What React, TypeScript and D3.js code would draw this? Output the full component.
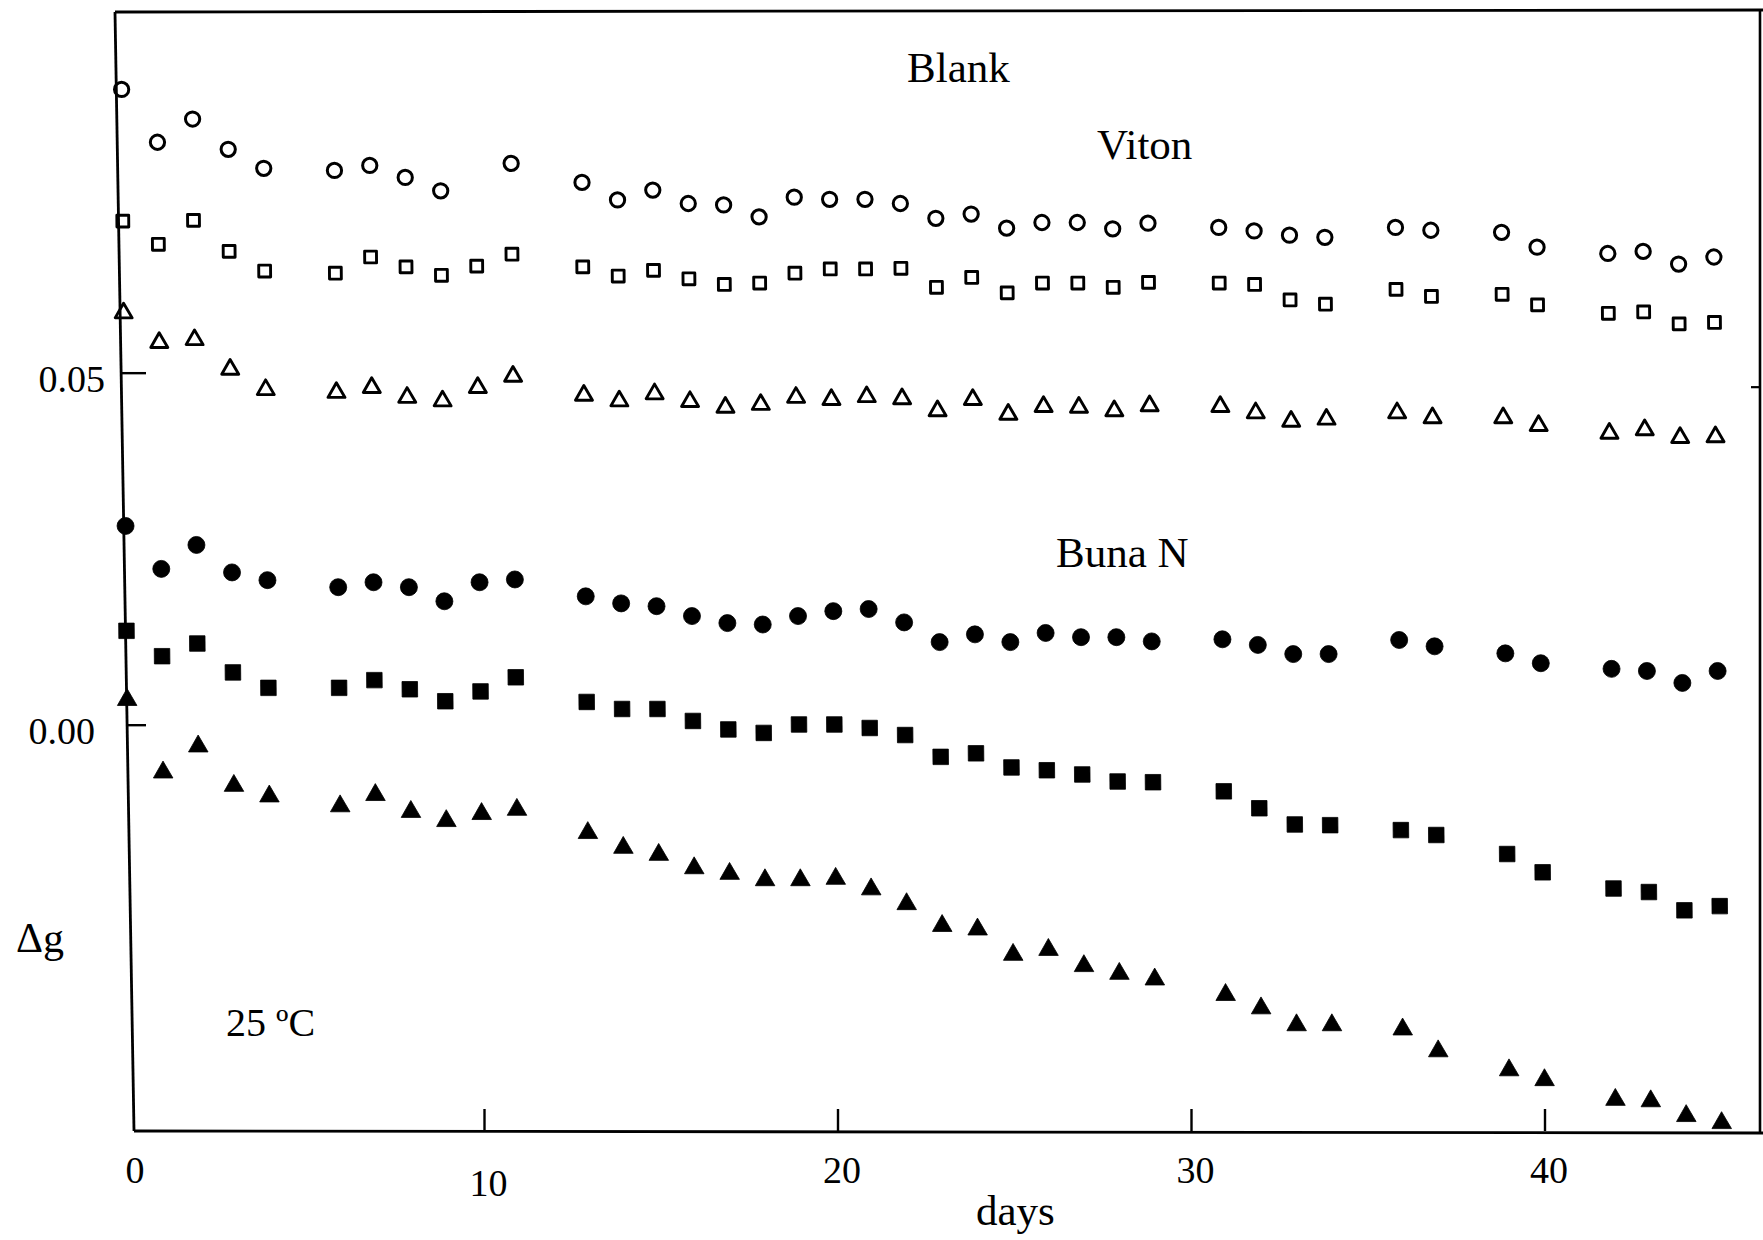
import React from 'react';
import * as d3 from 'd3';

// ---- data ----
const days = [0, 1, 2, 3, 4, 6, 7, 8, 9, 10, 11, 13, 14, 15, 16, 17, 18, 19, 20, 21, 22, 23, 24, 25, 26, 27, 28, 29, 31, 32, 33, 34, 36, 37, 39, 40, 42, 43, 44, 45];

const openCircle = [0.0903, 0.0828, 0.0861, 0.0818, 0.0791, 0.0788, 0.0795, 0.0778, 0.0759, null, 0.0798, 0.0771, 0.0746, 0.0760, 0.0741, 0.0739, 0.0722, 0.0750, 0.0747, 0.0747, 0.0741, 0.0720, 0.0726, 0.0706, 0.0714, 0.0714, 0.0705, 0.0713, 0.0707, 0.0702, 0.0696, 0.0693, 0.0707, 0.0703, 0.0700, 0.0679, 0.0670, 0.0673, 0.0655, 0.0665];
const openSquare = [0.0716, 0.0683, 0.0717, 0.0673, 0.0645, 0.0642, 0.0665, 0.0651, 0.0639, 0.0652, 0.0669, 0.0651, 0.0638, 0.0646, 0.0634, 0.0626, 0.0628, 0.0642, 0.0648, 0.0648, 0.0649, 0.0622, 0.0636, 0.0614, 0.0628, 0.0628, 0.0622, 0.0629, 0.0628, 0.0626, 0.0604, 0.0598, 0.0619, 0.0609, 0.0612, 0.0597, 0.0585, 0.0587, 0.0570, 0.0572];
const openTriangle = [0.0589, 0.0547, 0.0551, 0.0509, 0.0480, 0.0476, 0.0483, 0.0469, 0.0464, 0.0483, 0.0499, 0.0472, 0.0464, 0.0474, 0.0463, 0.0455, 0.0459, 0.0469, 0.0466, 0.0470, 0.0467, 0.0450, 0.0466, 0.0445, 0.0456, 0.0455, 0.0450, 0.0457, 0.0456, 0.0447, 0.0435, 0.0438, 0.0447, 0.0440, 0.0440, 0.0429, 0.0418, 0.0423, 0.0412, 0.0413];
const filledCircle = [0.0283, 0.0222, 0.0256, 0.0217, 0.0206, 0.0196, 0.0203, 0.0196, 0.0176, 0.0203, 0.0207, 0.0183, 0.0173, 0.0169, 0.0155, 0.0145, 0.0143, 0.0155, 0.0162, 0.0165, 0.0146, 0.0118, 0.0129, 0.0118, 0.0131, 0.0125, 0.0125, 0.0119, 0.0122, 0.0114, 0.0101, 0.0101, 0.0121, 0.0112, 0.0102, 0.0088, 0.0080, 0.0077, 0.0060, 0.0077];
const filledSquare = [0.0134, 0.0098, 0.0116, 0.0075, 0.0053, 0.0053, 0.0064, 0.0051, 0.0034, 0.0048, 0.0068, 0.0033, 0.0023, 0.0023, 0.0006, -0.0006, -0.0011, 0.0001, 0.0001, -0.0004, -0.0014, -0.0045, -0.0040, -0.0060, -0.0064, -0.0070, -0.0080, -0.0081, -0.0094, -0.0118, -0.0141, -0.0142, -0.0149, -0.0156, -0.0183, -0.0209, -0.0232, -0.0237, -0.0263, -0.0257];
const filledTriangle = [0.0040, -0.0063, -0.0026, -0.0082, -0.0097, -0.0111, -0.0095, -0.0119, -0.0132, -0.0122, -0.0116, -0.0149, -0.0170, -0.0180, -0.0199, -0.0207, -0.0216, -0.0216, -0.0214, -0.0229, -0.0250, -0.0281, -0.0286, -0.0322, -0.0315, -0.0338, -0.0349, -0.0357, -0.0379, -0.0398, -0.0422, -0.0422, -0.0428, -0.0459, -0.0486, -0.0500, -0.0528, -0.0530, -0.0551, -0.0561];

const xTicks = [0, 10, 20, 30, 40];
const xTickLabels = ['0', '10', '20', '30', '40'];
const yTicks = [0.05, 0.0];
const yTickLabels = ['0.05', '0.00'];

const seriesLabels = [
  { text: 'Blank', x: 907, y: 82 },
  { text: 'Viton', x: 1097, y: 159 },
  { text: 'Buna N', x: 1056, y: 567 },
];

const FONT = "'Liberation Serif', 'Times New Roman', serif";
const W = 1763;
const H = 1240;
const TOP = 12;
const BOTTOM = 1131;
const RIGHT = 1760;
const SHEAR = 0.009;

const x = d3.scaleLinear().domain([0, 40]).range([131, 1545]);
const y = d3.scaleLinear().domain([-0.0575, 0.1013]).range([1130, 12]);

// left axis is slightly slanted in the reference
const axisTopX = 115;
const axisBotX = 134;
const axisX = (py: number) => axisTopX + ((py - TOP) * (axisBotX - axisTopX)) / (BOTTOM - TOP);

type Series = { values: (number | null)[]; type: d3.SymbolType; size: number; filled: boolean; sw: number };
const series: Series[] = [
  { values: openCircle, type: d3.symbolCircle, size: 160, filled: false, sw: 3 },
  { values: openSquare, type: d3.symbolSquare, size: 140, filled: false, sw: 2.9 },
  { values: openTriangle, type: d3.symbolTriangle, size: 125, filled: false, sw: 2.9 },
  { values: filledCircle, type: d3.symbolCircle, size: 227, filled: true, sw: 0.8 },
  { values: filledSquare, type: d3.symbolSquare, size: 240, filled: true, sw: 0.8 },
  { values: filledTriangle, type: d3.symbolTriangle, size: 165, filled: true, sw: 0.8 },
];

export default function App() {
  return (
    <svg
      width={W}
      height={H}
      viewBox={`0 0 ${W} ${H}`}
      style={{ position: 'absolute', left: 0, top: 0, background: '#fff' }}
    >
      <rect x={0} y={0} width={W} height={H} fill="#fff" />
      {/* frame */}
      <line x1={axisTopX} y1={TOP} x2={axisBotX} y2={BOTTOM} stroke="#000" strokeWidth={2.8} />
      <line x1={axisTopX} y1={TOP} x2={W} y2={TOP - 2} stroke="#000" strokeWidth={2.8} />
      <line x1={axisBotX} y1={BOTTOM} x2={W} y2={BOTTOM + 2} stroke="#000" strokeWidth={2.8} />
      <line x1={RIGHT} y1={TOP - 2} x2={RIGHT} y2={BOTTOM + 2} stroke="#000" strokeWidth={2.6} />

      {/* x ticks */}
      {xTicks.map((t, i) => (
        <g key={'xt' + i}>
          {t !== 0 && <line x1={x(t)} x2={x(t)} y1={BOTTOM} y2={BOTTOM - 22} stroke="#000" strokeWidth={2.4} />}
          <text x={x(t) + 4} y={t === 10 ? 1196 : 1183} textAnchor="middle" fontFamily={FONT} fontSize={38} fill="#000">
            {xTickLabels[i]}
          </text>
        </g>
      ))}

      {/* y ticks */}
      {yTicks.map((t, i) => (
        <g key={'yt' + i}>
          <line x1={axisX(y(t))} x2={146} y1={y(t)} y2={y(t)} stroke="#000" strokeWidth={2.4} />
          <text x={i === 0 ? 105 : 95} y={y(t) + 19} textAnchor="end" fontFamily={FONT} fontSize={38} fill="#000">
            {yTickLabels[i]}
          </text>
        </g>
      ))}
      <line x1={RIGHT - 9} x2={RIGHT} y1={y(0.05) + 14} y2={y(0.05) + 14} stroke="#000" strokeWidth={2.2} />

      {/* data */}
      <g transform={`matrix(1,0,${SHEAR},1,${-SHEAR * BOTTOM},0)`}>
        {series.map((s, si) => {
          const path = d3.symbol().type(s.type).size(s.size)() as string;
          const triOffset = s.type === d3.symbolTriangle ? Math.sqrt(s.size / (3 * Math.sqrt(3))) / 2 : 0;
          return (
            <g key={'s' + si}>
              {s.values.map((v, i) =>
                v === null ? null : (
                  <path
                    key={i}
                    d={path}
                    transform={`translate(${x(days[i])},${y(v) + triOffset})`}
                    fill={s.filled ? '#000' : 'none'}
                    stroke="#000"
                    strokeWidth={s.sw}
                    strokeLinejoin="round"
                  />
                )
              )}
            </g>
          );
        })}
      </g>

      {/* annotations */}
      {seriesLabels.map((l, i) => (
        <text key={'l' + i} x={l.x} y={l.y} fontFamily={FONT} fontSize={43} fill="#000">
          {l.text}
        </text>
      ))}
      <text x={16} y={952} fontFamily={FONT} fontSize={42} fill="#000">Δg</text>
      <text x={226} y={1036} fontFamily={FONT} fontSize={40} fill="#000">25 ºC</text>
      <text x={976} y={1225} fontFamily={FONT} fontSize={43} fill="#000">days</text>
    </svg>
  );
}
